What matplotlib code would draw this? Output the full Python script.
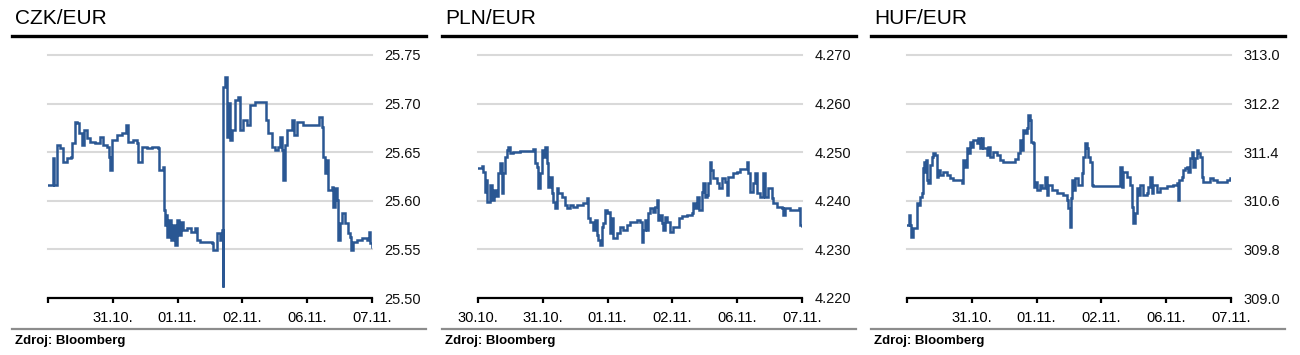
import matplotlib
matplotlib.use("Agg")
import matplotlib.pyplot as plt
from matplotlib.lines import Line2D

plt.rcParams['font.family'] = ['Liberation Sans', 'DejaVu Sans']

# ---------------- data ----------------
titles = ["CZK/EUR", "PLN/EUR", "HUF/EUR"]
source = "Zdroj: Bloomberg"

xtick_labels_czk = ["", "31.10.", "01.11.", "02.11.", "06.11.", "07.11."]
xtick_labels_pln = ["30.10.", "31.10.", "01.11.", "02.11.", "06.11.", "07.11."]
xtick_labels_huf = ["", "31.10.", "01.11.", "02.11.", "06.11.", "07.11."]

yticks_czk = [25.50, 25.55, 25.60, 25.65, 25.70, 25.75]
yticks_pln = [4.220, 4.230, 4.240, 4.250, 4.260, 4.270]
yticks_huf = [309.0, 309.8, 310.6, 311.4, 312.2, 313.0]

# time in trading days from the first axis tick
t_czk = [0.000, 0.062, 0.077, 0.093, 0.123, 0.139, 0.185, 0.231, 0.293, 0.355,
         0.370, 0.417, 0.448, 0.478, 0.525, 0.556, 0.602, 0.648, 0.725, 0.802,
         0.849, 0.910, 0.941, 0.957, 0.988, 1.065, 1.142, 1.204, 1.235, 1.312,
         1.373, 1.389, 1.451, 1.528, 1.605, 1.698, 1.713, 1.775, 1.790, 1.806,
         1.821, 1.836, 1.867, 1.898, 1.929, 1.960, 1.991, 2.022, 2.052, 2.083,
         2.145, 2.207, 2.269, 2.299, 2.346, 2.438, 2.531, 2.546, 2.608, 2.654,
         2.685, 2.693, 2.701, 2.708, 2.731, 2.762, 2.778, 2.809, 2.840, 2.886,
         2.932, 2.963, 3.009, 3.071, 3.117, 3.194, 3.349, 3.364, 3.395, 3.457,
         3.503, 3.549, 3.580, 3.611, 3.627, 3.657, 3.688, 3.765, 3.796, 3.843,
         3.935, 4.043, 4.151, 4.182, 4.228, 4.244, 4.275, 4.306, 4.321, 4.383,
         4.398, 4.429, 4.460, 4.475, 4.506, 4.537, 4.583, 4.630, 4.660, 4.676,
         4.707, 4.769, 4.846, 4.923, 4.954, 4.969, 5.000]
v_czk = [25.616, 25.616, 25.644, 25.616, 25.616, 25.657, 25.654, 25.640, 25.644, 25.645,
         25.659, 25.681, 25.680, 25.670, 25.657, 25.673, 25.665, 25.660, 25.659, 25.666,
         25.657, 25.655, 25.645, 25.632, 25.663, 25.668, 25.670, 25.678, 25.660, 25.663,
         25.659, 25.640, 25.655, 25.654, 25.655, 25.654, 25.632, 25.635, 25.591, 25.575,
         25.585, 25.563, 25.580, 25.560, 25.575, 25.555, 25.580, 25.565, 25.578, 25.570,
         25.572, 25.568, 25.572, 25.560, 25.558, 25.558, 25.557, 25.549, 25.567, 25.560,
         25.570, 25.529, 25.511, 25.717, 25.727, 25.666, 25.701, 25.663, 25.673, 25.704,
         25.707, 25.673, 25.683, 25.678, 25.699, 25.702, 25.702, 25.683, 25.670, 25.655,
         25.652, 25.655, 25.666, 25.652, 25.621, 25.657, 25.673, 25.683, 25.668, 25.681,
         25.678, 25.678, 25.678, 25.686, 25.676, 25.645, 25.629, 25.642, 25.611, 25.614,
         25.594, 25.613, 25.601, 25.560, 25.577, 25.587, 25.577, 25.567, 25.563, 25.549,
         25.558, 25.560, 25.562, 25.560, 25.568, 25.557, 25.552]

t_pln = [0.000, 0.062, 0.077, 0.108, 0.123, 0.139, 0.185, 0.216, 0.247, 0.278,
         0.309, 0.340, 0.370, 0.386, 0.417, 0.448, 0.463, 0.494, 0.540, 0.648,
         0.802, 0.849, 0.880, 0.910, 0.926, 0.957, 0.988, 1.003, 1.034, 1.065,
         1.080, 1.111, 1.142, 1.157, 1.188, 1.219, 1.235, 1.296, 1.343, 1.373,
         1.420, 1.466, 1.528, 1.620, 1.682, 1.698, 1.728, 1.775, 1.806, 1.836,
         1.852, 1.883, 1.914, 1.929, 1.960, 1.991, 2.006, 2.037, 2.068, 2.083,
         2.145, 2.191, 2.238, 2.299, 2.346, 2.454, 2.500, 2.531, 2.546, 2.577,
         2.608, 2.623, 2.654, 2.701, 2.731, 2.762, 2.778, 2.809, 2.840, 2.855,
         2.886, 2.917, 2.963, 3.009, 3.071, 3.102, 3.148, 3.225, 3.302, 3.318,
         3.349, 3.380, 3.410, 3.457, 3.472, 3.503, 3.534, 3.549, 3.580, 3.596,
         3.627, 3.688, 3.719, 3.765, 3.812, 3.843, 3.858, 3.920, 3.935, 3.997,
         4.043, 4.120, 4.151, 4.167, 4.198, 4.244, 4.275, 4.306, 4.352, 4.398,
         4.429, 4.475, 4.537, 4.552, 4.614, 4.691, 4.707, 4.738, 4.815, 4.923,
         4.954, 4.969, 5.000]
v_pln = [4.2467, 4.2472, 4.2459, 4.2418, 4.2443, 4.2398, 4.2433, 4.2402, 4.2422, 4.2410,
         4.2457, 4.2478, 4.2416, 4.2457, 4.2490, 4.2505, 4.2511, 4.2498, 4.2500, 4.2502,
         4.2502, 4.2507, 4.2478, 4.2470, 4.2426, 4.2457, 4.2505, 4.2490, 4.2511, 4.2478,
         4.2428, 4.2449, 4.2416, 4.2398, 4.2385, 4.2426, 4.2416, 4.2408, 4.2391, 4.2385,
         4.2391, 4.2387, 4.2391, 4.2395, 4.2406, 4.2365, 4.2356, 4.2340, 4.2360, 4.2330,
         4.2319, 4.2309, 4.2346, 4.2354, 4.2381, 4.2375, 4.2377, 4.2334, 4.2365, 4.2323,
         4.2334, 4.2346, 4.2340, 4.2350, 4.2356, 4.2360, 4.2356, 4.2315, 4.2340, 4.2360,
         4.2340, 4.2375, 4.2385, 4.2377, 4.2387, 4.2402, 4.2360, 4.2371, 4.2354, 4.2340,
         4.2367, 4.2356, 4.2336, 4.2346, 4.2346, 4.2365, 4.2369, 4.2371, 4.2375, 4.2395,
         4.2385, 4.2408, 4.2381, 4.2418, 4.2437, 4.2408, 4.2412, 4.2437, 4.2480, 4.2463,
         4.2447, 4.2437, 4.2426, 4.2447, 4.2439, 4.2412, 4.2449, 4.2449, 4.2457, 4.2459,
         4.2465, 4.2465, 4.2480, 4.2457, 4.2418, 4.2437, 4.2457, 4.2416, 4.2408, 4.2457,
         4.2408, 4.2426, 4.2406, 4.2395, 4.2387, 4.2385, 4.2371, 4.2385, 4.2381, 4.2381,
         4.2385, 4.2350, 4.2348]

t_huf = [0.000, 0.031, 0.046, 0.062, 0.093, 0.123, 0.154, 0.170, 0.201, 0.231,
         0.247, 0.262, 0.278, 0.293, 0.309, 0.324, 0.355, 0.386, 0.401, 0.432,
         0.463, 0.478, 0.509, 0.556, 0.617, 0.664, 0.710, 0.787, 0.849, 0.864,
         0.895, 0.926, 0.941, 0.972, 1.003, 1.019, 1.080, 1.096, 1.127, 1.157,
         1.173, 1.235, 1.250, 1.281, 1.327, 1.389, 1.435, 1.481, 1.590, 1.667,
         1.713, 1.744, 1.775, 1.790, 1.821, 1.852, 1.867, 1.898, 1.914, 1.944,
         1.960, 1.975, 2.006, 2.052, 2.083, 2.130, 2.160, 2.176, 2.238, 2.315,
         2.407, 2.469, 2.485, 2.515, 2.531, 2.546, 2.562, 2.593, 2.639, 2.701,
         2.716, 2.747, 2.778, 2.793, 2.824, 2.855, 2.870, 3.056, 3.256, 3.287,
         3.318, 3.333, 3.395, 3.441, 3.472, 3.488, 3.519, 3.549, 3.565, 3.596,
         3.642, 3.704, 3.719, 3.750, 3.781, 3.796, 3.858, 3.904, 4.012, 4.105,
         4.167, 4.182, 4.198, 4.244, 4.259, 4.290, 4.321, 4.336, 4.367, 4.398,
         4.414, 4.444, 4.475, 4.491, 4.522, 4.552, 4.568, 4.630, 4.676, 4.722,
         4.784, 4.938, 4.985]
v_huf = [310.20, 310.37, 310.20, 310.00, 310.15, 310.15, 310.56, 310.53, 310.66, 310.73,
         311.14, 311.24, 311.07, 311.27, 310.94, 310.89, 311.19, 311.32, 311.39, 311.35,
         310.99, 311.11, 311.02, 311.07, 311.02, 310.98, 310.94, 310.94, 310.89, 311.27,
         311.16, 311.47, 311.39, 311.57, 311.49, 311.60, 311.55, 311.63, 311.47, 311.63,
         311.47, 311.35, 311.49, 311.32, 311.40, 311.35, 311.27, 311.24, 311.24, 311.29,
         311.39, 311.60, 311.44, 311.77, 311.72, 311.80, 312.01, 311.93, 311.57, 311.55,
         310.83, 310.91, 310.78, 310.86, 310.81, 310.99, 310.70, 310.86, 310.78, 310.73,
         310.70, 310.61, 310.48, 310.17, 310.65, 310.94, 310.78, 310.98, 310.86, 311.06,
         311.32, 311.55, 311.47, 311.32, 311.24, 310.86, 310.84, 310.84, 310.84, 311.16,
         310.83, 311.07, 310.99, 310.86, 310.50, 310.23, 310.40, 310.81, 310.70, 310.86,
         310.70, 310.73, 310.83, 310.99, 310.73, 310.86, 310.74, 310.81, 310.84, 310.86,
         310.89, 310.61, 310.94, 310.99, 311.11, 311.14, 311.16, 311.07, 311.30, 311.40,
         311.16, 311.30, 311.44, 311.39, 311.32, 310.99, 310.91, 310.91, 310.98, 310.94,
         310.91, 310.94, 310.98]

xtick_pos = [0, 1, 2, 3, 4, 5]

# ---------------- figure ----------------
W, H = 1300, 355
fig = plt.figure(figsize=(W / 100, H / 100), dpi=100)

line_color = "#2a5793"
grid_color = "#d9d9d9"

panels = [
    (0, t_czk, v_czk, yticks_czk, xtick_labels_czk, "{:.2f}"),
    (430, t_pln, v_pln, yticks_pln, xtick_labels_pln, "{:.3f}"),
    (859, t_huf, v_huf, yticks_huf, xtick_labels_huf, "{:.1f}"),
]

for i, (off, t, v, yt, xl, fmt) in enumerate(panels):
    ax_left = off + 48
    ax = fig.add_axes([ax_left / W, 1 - 298 / H, 324 / W, 243 / H])
    ax.plot(t, v, color=line_color, lw=1.8, drawstyle="steps-post",
            solid_joinstyle="miter", zorder=3)
    ax.set_xlim(0, 5)
    ax.set_ylim(yt[0], yt[-1])
    ax.set_yticks(yt)
    ax.set_yticklabels([fmt.format(y) for y in yt])
    ax.yaxis.tick_right()
    ax.tick_params(axis="y", length=0, pad=9, labelsize=10.5, colors="#111111")
    ax.set_xticks(xtick_pos)
    ax.set_xticklabels(xl)
    ax.tick_params(axis="x", direction="out", length=3.5, width=1.6,
                   pad=6, labelsize=10.5, colors="black")
    for y in yt[1:]:
        ax.axhline(y, color=grid_color, lw=1.5, zorder=1, clip_on=False)
    for s in ["top", "left", "right"]:
        ax.spines[s].set_visible(False)
    ax.spines["bottom"].set_linewidth(1.6)
    ax.spines["bottom"].set_color("black")
    ax.set_facecolor("none")

    # title, rules and source
    fig.text((off + 15) / W, 1 - 18 / H, titles[i], fontsize=15,
             ha="left", va="center", color="black")
    fig.add_artist(Line2D([(off + 12) / W, (off + 426) / W], [1 - 36 / H, 1 - 36 / H],
                          color="black", lw=2.4, transform=fig.transFigure))
    fig.add_artist(Line2D([(off + 12) / W, (off + 426) / W], [1 - 329 / H, 1 - 329 / H],
                          color="#8c8c8c", lw=1.6, transform=fig.transFigure))
    fig.text((off + 15) / W, 1 - 341 / H, source, fontsize=9.5, fontweight="bold",
             ha="left", va="center", color="black")

fig.savefig("out.png", dpi=100, facecolor="white")
